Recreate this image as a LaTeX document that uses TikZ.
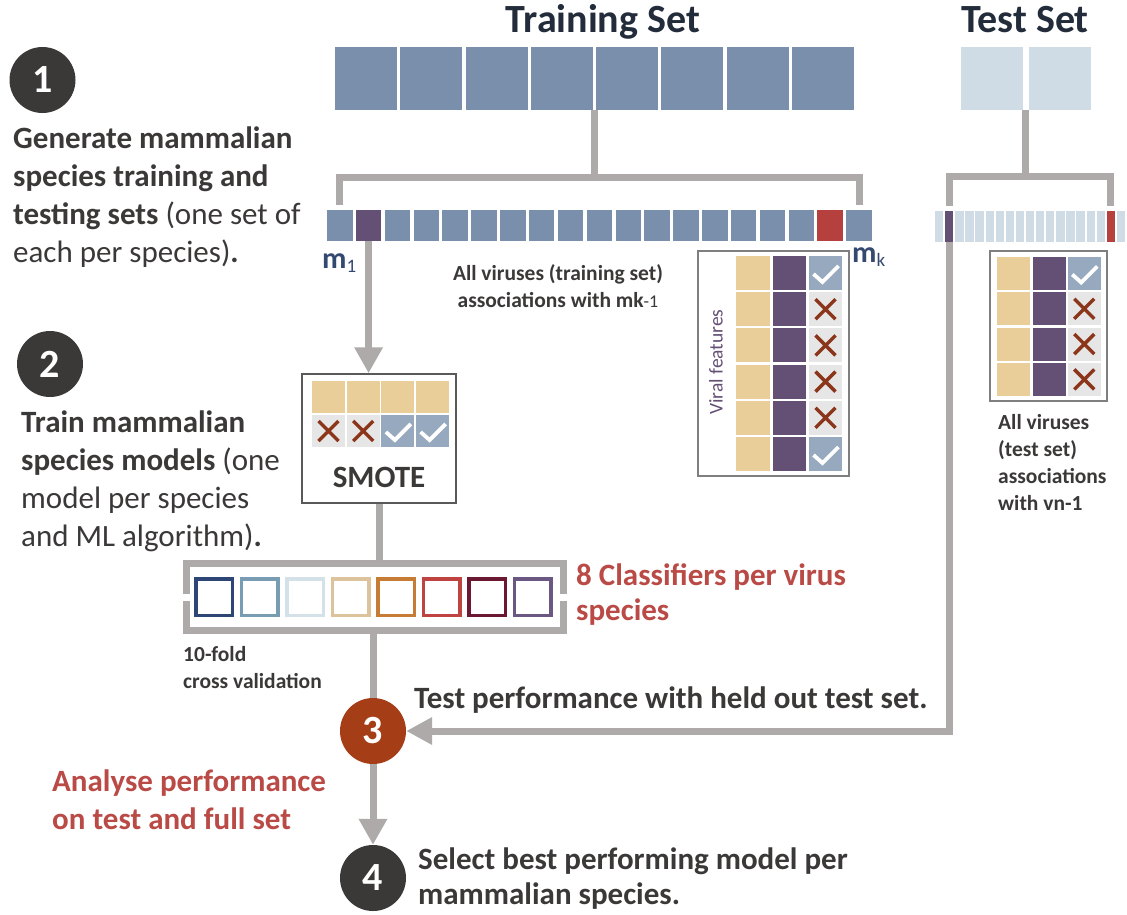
\documentclass[tikz,border=0pt]{standalone}
\usepackage{fontspec}
\setmainfont{Carlito}
\usetikzlibrary{arrows.meta,fit}

\definecolor{ink}{HTML}{3B3838}
\definecolor{titleink}{HTML}{222C3A}
\definecolor{conn}{HTML}{AEAAAA}
\definecolor{trainb}{HTML}{7A8FAB}
\definecolor{testb}{HTML}{D0DCE5}
\definecolor{purp}{HTML}{644F75}
\definecolor{redb}{HTML}{B5403D}
\definecolor{tanc}{HTML}{E9CE9A}
\definecolor{chk}{HTML}{97A9BF}
\definecolor{xcell}{HTML}{E6E6E6}
\definecolor{xmark}{HTML}{8B361B}
\definecolor{rust}{HTML}{A53E17}
\definecolor{redtxt}{HTML}{BA4A46}
\definecolor{mblue}{HTML}{34496F}
\definecolor{framec}{HTML}{7F7F7F}
\definecolor{framed}{HTML}{595959}
\definecolor{kA}{HTML}{2E4676}
\definecolor{kB}{HTML}{789CB1}
\definecolor{kC}{HTML}{D5E1E8}
\definecolor{kD}{HTML}{DCC39C}
\definecolor{kE}{HTML}{C77C35}
\definecolor{kF}{HTML}{BF4341}
\definecolor{kG}{HTML}{6B1933}
\definecolor{kH}{HTML}{6B5882}

\newcommand\fsz[2]{\fontsize{#1}{#2}\selectfont}

\tikzset{
  gline/.style={draw=conn, line width=7pt},
  headd/.style={-{Triangle[width=27pt,length=26pt]}},
  bigbox/.style={rectangle, inner sep=0pt, minimum width=62pt, minimum height=63pt},
  rowbox/.style={rectangle, inner sep=0pt, minimum width=25.5pt, minimum height=31pt},
  tinybox/.style={rectangle, inner sep=0pt, minimum width=8.3pt, minimum height=31pt},
  cell/.style={rectangle, inner sep=0pt, minimum width=33pt, minimum height=33pt},
  frame/.style={rectangle, draw=framec, line width=1.5pt, inner sep=0pt},
  sq/.style={rectangle, line width=3.5pt, inner sep=0pt, minimum size=36.5pt},
  stepnum/.style={circle, fill=ink, text=white, minimum size=66pt, inner sep=0pt,
    font=\fsz{40}{40}\bfseries},
  titletxt/.style={font=\fsz{40}{48}\bfseries, text=titleink, inner sep=0pt},
  bigtxt/.style={font=\fsz{31}{37.7}, text=ink, inner sep=0pt, align=left},
  smalltxt/.style={font=\fsz{21.5}{27}\bfseries, text=ink, inner sep=0pt},
  tick/.pic={\draw[white, line width=3.8pt] (-12,1) -- (-3,9) -- (13,-7);},
  cross/.pic={\draw[xmark, line width=3.4pt] (-10,-10) -- (10,10) (-10,10) -- (10,-10);},
}

\begin{document}
\begin{tikzpicture}[x=1pt,y=-1pt]
\useasboundingbox[fill=white] (0,0) rectangle (1127,914);

% ---- set titles and blocks ----
\node[titletxt, anchor=base] (trtitle) at (603,32) {Training Set};
\node[titletxt, anchor=base] (tetitle) at (1025,32) {Test Set};

\foreach \i in {0,...,7}
  \node[bigbox, fill=trainb] (T\i) at ({366+65.25*\i},78) {};
\node[fit=(T0)(T7), inner sep=0pt] (trset) {};
\node[bigbox, fill=testb] (S0) at (991.5,78) {};
\node[bigbox, fill=testb] (S1) at (1059.5,78) {};
\node[fit=(S0)(S1), inner sep=0pt] (teset) {};

% ---- per-species rows ----
\foreach \i in {1,...,19}{
  \ifnum\i=2 \def\cc{purp}\else\ifnum\i=18 \def\cc{redb}\else\def\cc{trainb}\fi\fi
  \node[rowbox, fill=\cc] (r\i) at ({339.75+28.85*(\i-1)},225.5) {};
}
\foreach \i in {1,...,19}{
  \ifnum\i=2 \def\cc{purp}\else\ifnum\i=18 \def\cc{redb}\else\def\cc{testb}\fi\fi
  \node[tinybox, fill=\cc] (e\i) at ({939.15+10.1*(\i-1)},226.5) {};
}

% ---- brackets from the sets to the rows ----
\path (trset.south) ++(0,68) coordinate (trj);
\draw[gline] (trset.south) -- (trj);
\draw[gline] ([yshift=5pt]r1.north) |- (trj) -| ([yshift=5pt]r19.north);
\path (teset.south) ++(0,67) coordinate (tej);
\draw[gline] (teset.south) -- (tej);
\draw[gline] ([yshift=5pt]e2.north) |- (tej) -| ([yshift=5pt]e18.north);

% ---- row labels ----
\node[font=\fsz{30}{30}\bfseries, text=mblue, inner sep=0pt, anchor=base west] (m1)
  at (322,268) {m\raisebox{-4pt}{\mdseries\fsz{19}{19}1}};
\node[font=\fsz{30}{30}\bfseries, text=mblue, inner sep=0pt, anchor=base west] (mk)
  at (852,262) {m\raisebox{-4pt}{\mdseries\fsz{19}{19}k}};
\node[smalltxt, align=center, anchor=north] (trcap) at (558,264)
  {All viruses (training set)\\associations with mk{\mdseries\fsz{18}{18}-1}};

% ---- training feature table ----
\node[frame, minimum width=151pt, minimum height=225pt] (vtab) at (773.5,363.5) {};
\foreach \r in {1,...,6}{
  \node[cell, fill=tanc, minimum width=33.5pt, minimum height=34pt] (vA\r) at (752.75,{273+36.2*(\r-1)}) {};
  \node[cell, fill=purp, minimum width=33.5pt, minimum height=34pt] (vB\r) at (789.25,{273+36.2*(\r-1)}) {};
  \ifnum\r=1 \def\ok{1}\else\ifnum\r=6 \def\ok{1}\else\def\ok{0}\fi\fi
  \ifnum\ok=1
    \node[cell, fill=chk, minimum width=32.5pt, minimum height=34pt] (vC\r) at (825.5,{273+36.2*(\r-1)}) {};
    \pic at (vC\r) {tick};
  \else
    \node[cell, fill=xcell, minimum width=32.5pt, minimum height=34pt] (vC\r) at (825.5,{273+36.2*(\r-1)}) {};
    \pic at (vC\r) {cross};
  \fi
}
\node[rotate=90, font=\fsz{19.5}{19.5}, text=purp, inner sep=0pt] (vf) at (716,362) {Viral features};

% ---- test feature table ----
\node[frame, minimum width=117pt, minimum height=150pt] (ttab) at (1048.5,326) {};
\foreach \r in {1,...,4}{
  \node[cell, fill=tanc, minimum width=32.5pt] (tA\r) at (1013.25,{273.5+35.3*(\r-1)}) {};
  \node[cell, fill=purp, minimum width=32.5pt] (tB\r) at (1049.5,{273.5+35.3*(\r-1)}) {};
  \ifnum\r=1
    \node[cell, fill=chk, minimum width=32.5pt] (tC\r) at (1084.25,{273.5+35.3*(\r-1)}) {};
    \pic at (tC\r) {tick};
  \else
    \node[cell, fill=xcell, minimum width=32.5pt] (tC\r) at (1084.25,{273.5+35.3*(\r-1)}) {};
    \pic at (tC\r) {cross};
  \fi
}
\node[smalltxt, align=left, anchor=north west] (tecap) at (998,414)
  {All viruses\\(test set)\\associations\\with vn-1};

% ---- SMOTE ----
\node[rectangle, draw=framed, line width=1.5pt, fill=white, minimum width=154pt,
  minimum height=129pt, inner sep=0pt] (smote) at (379,438.5) {};
\foreach \i in {1,...,4}
  \node[cell, fill=tanc, minimum height=32pt] (sA\i) at ({328.5+34.7*(\i-1)},397) {};
\foreach \i in {1,2}{
  \node[cell, fill=xcell, minimum height=32pt] (sB\i) at ({328.5+34.7*(\i-1)},431) {};
  \pic at (sB\i) {cross};
}
\foreach \i in {3,4}{
  \node[cell, fill=chk, minimum height=32pt] (sB\i) at ({328.5+34.7*(\i-1)},431) {};
  \pic at (sB\i) {tick};
}
\node[font=\fsz{31}{31}\bfseries, text=ink, inner sep=0pt] (smtxt) at (379,477) {SMOTE};

% ---- classifiers ----
\node[inner sep=0pt, minimum width=377pt, minimum height=67pt] (clf) at (375,597) {};
\foreach \c [count=\i] in {kA,kB,kC,kD,kE,kF,kG,kH}
  \node[sq, draw=\c] (q\i) at ({214+45.5*(\i-1)},597) {};
\draw[gline] ([yshift=3.5pt]clf.west) |- (clf.north) -| ([yshift=3.5pt]clf.east);
\draw[gline] ([yshift=-3.5pt]clf.west) |- (clf.south) -| ([yshift=-3.5pt]clf.east);
\node[font=\fsz{31}{35}\bfseries, text=redtxt, inner sep=0pt, align=left, anchor=north west]
  (clftxt) at (576,563) {8 Classifiers per virus\\species};
\node[smalltxt, align=left, anchor=north west] (cvtxt) at (183,646) {10-fold\\cross validation};

% ---- numbered steps ----
\node[stepnum] (c1) at (42.5,80) {1};
\node[stepnum] (c2) at (50,364) {2};
\node[stepnum, fill=rust] (c3) at (373,731) {3};
\node[stepnum] (c4) at (373,878) {4};

\node[bigtxt, anchor=north west] (t1) at (13,127)
  {\textbf{Generate mammalian}\\\textbf{species training and}\\\textbf{testing sets} (one set of\\each per species)\textbf{.}};
\node[bigtxt, anchor=north west] (t2) at (21,411)
  {\textbf{Train mammalian}\\\textbf{species models} (one\\model per species\\and ML algorithm)\textbf{.}};
\node[bigtxt, anchor=base west, font=\fsz{31}{37.7}\bfseries] (t3) at (414,708)
  {Test performance with held out test set.};
\node[bigtxt, anchor=north west, font=\fsz{31}{38}\bfseries, text=redtxt] (t3b) at (52,770)
  {Analyse performance\\on test and full set};
\node[bigtxt, anchor=north west, font=\fsz{31}{35}\bfseries] (t4) at (418,848)
  {Select best performing model per\\mammalian species.};

% ---- flow connectors ----
\draw[gline, headd] (r2.south) -- (r2.south |- smote.north);
\draw[gline] (smote.south) -- (smote.south |- clf.north);
\draw[gline] (clf.south -| c3.north) -- (c3.north);
\draw[gline, -{Triangle[width=26pt,length=26pt]}] (e2.south) |- (c3.east);
\draw[gline, headd] (c3.south) -- (c4.north);
\end{tikzpicture}
\end{document}
